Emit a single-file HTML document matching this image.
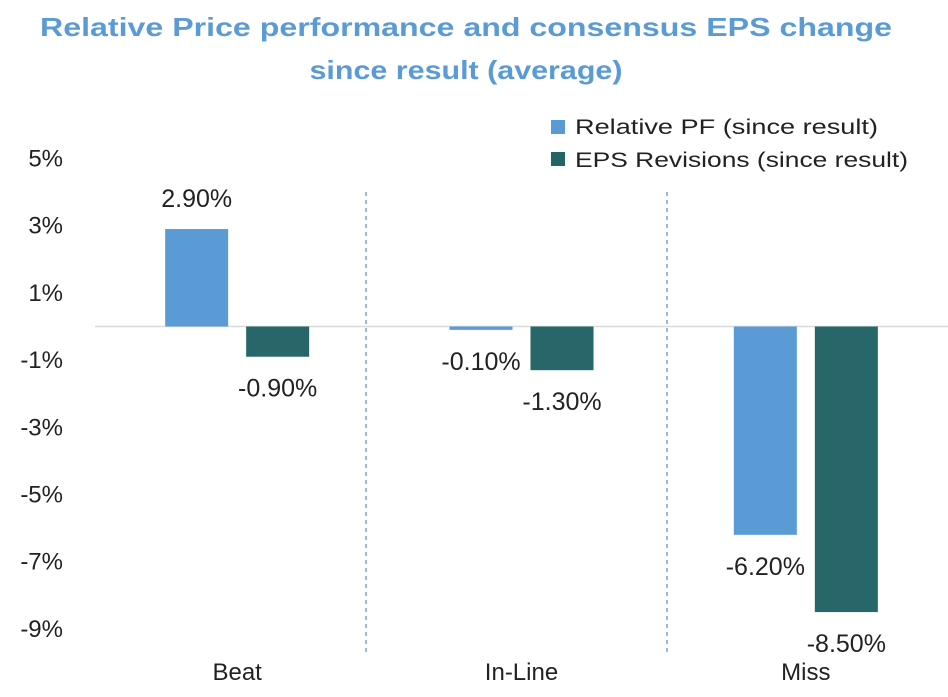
<!DOCTYPE html>
<html><head><meta charset="utf-8"><style>
html,body{margin:0;padding:0;background:#fff;}
svg{display:block;font-family:"Liberation Sans",sans-serif;}
</style></head><body>
<svg id="chart" width="948" height="697">
<text x="466" y="36" text-anchor="middle" font-size="26" font-weight="bold" fill="#5b9bd5" textLength="852" lengthAdjust="spacingAndGlyphs">Relative Price performance and consensus EPS change</text>
<text x="466" y="79" text-anchor="middle" font-size="26" font-weight="bold" fill="#5b9bd5" textLength="313" lengthAdjust="spacingAndGlyphs">since result (average)</text>
<g>
<rect x="551" y="120" width="14" height="14" fill="#5b9bd5"/>
<text x="575" y="134" font-size="21" fill="#222" textLength="303" lengthAdjust="spacingAndGlyphs">Relative PF (since result)</text>
<rect x="551" y="152" width="14" height="14" fill="#236467"/>
<text x="575" y="167" font-size="21" fill="#222" textLength="333" lengthAdjust="spacingAndGlyphs">EPS Revisions (since result)</text>
</g>
<g id="plot"></g>
</svg>
<script>
const categories = ["Beat", "In-Line", "Miss"];
const relativePF = [2.9, -0.1, -6.2];
const epsRevisions = [-0.9, -1.3, -8.5];
const yTicks = [5, 3, 1, -1, -3, -5, -7, -9];
const pfLabels = ["2.90%", "-0.10%", "-6.20%"];
const epsLabels = ["-0.90%", "-1.30%", "-8.50%"];

const NS = "http://www.w3.org/2000/svg";
const g = document.getElementById("plot");
const plotLeft = 95, plotRight = 948;
const catW = (plotRight - plotLeft) / categories.length;
const sepX = [366, 667];
function y(v){ return 326.5 - v * 33.6; }
function cx(i){ return plotLeft + catW * (i + 0.5); }
function mk(tag, attrs){ const e = document.createElementNS(NS, tag); for (const k in attrs) e.setAttribute(k, attrs[k]); g.appendChild(e); return e; }

yTicks.forEach(function(t){
  const e = mk("text", {x: 63, y: y(t) + 8, "text-anchor": "end", "font-size": 24, fill: "#222"});
  e.textContent = t + "%";
  
  
});
sepX.forEach(function(sx){
  const l = mk("line", {x1: sx, x2: sx, y1: 192, y2: 655, stroke: "#5b9bd5", "stroke-width": 1.3, "stroke-dasharray": "4,4"});
  
  
});
const zl = mk("line", {x1: plotLeft, x2: plotRight, y1: y(0), y2: y(0), stroke: "#d9d9d9", "stroke-width": 1.5});



const bw = 63, gap = 18;
categories.forEach(function(c, i){
  const series = [[relativePF[i], "#5b9bd5", pfLabels[i], -bw - gap/2, "bar-relative-pf"], [epsRevisions[i], "#276669", epsLabels[i], gap/2, "bar-eps"]];
  series.forEach(function(s){
    const v = s[0], x0 = cx(i) + s[3];
    const top = Math.min(y(v), y(0)), h = Math.max(Math.abs(y(v) - y(0)), 1.5);
    const r = mk("rect", {x: x0, y: top, width: bw, height: h, fill: s[1]});
    
    
    const ly = v >= 0 ? y(v) - 22 : y(v) + 40;
    const t = mk("text", {x: x0 + bw/2, y: ly, "text-anchor": "middle", "font-size": 25, fill: "#222"});
    t.textContent = s[2];
    
    
  });
  const cl = mk("text", {x: cx(i), y: 680, "text-anchor": "middle", "font-size": 24, fill: "#222"});
  cl.textContent = c;
  
  
});
</script>
</body></html>
